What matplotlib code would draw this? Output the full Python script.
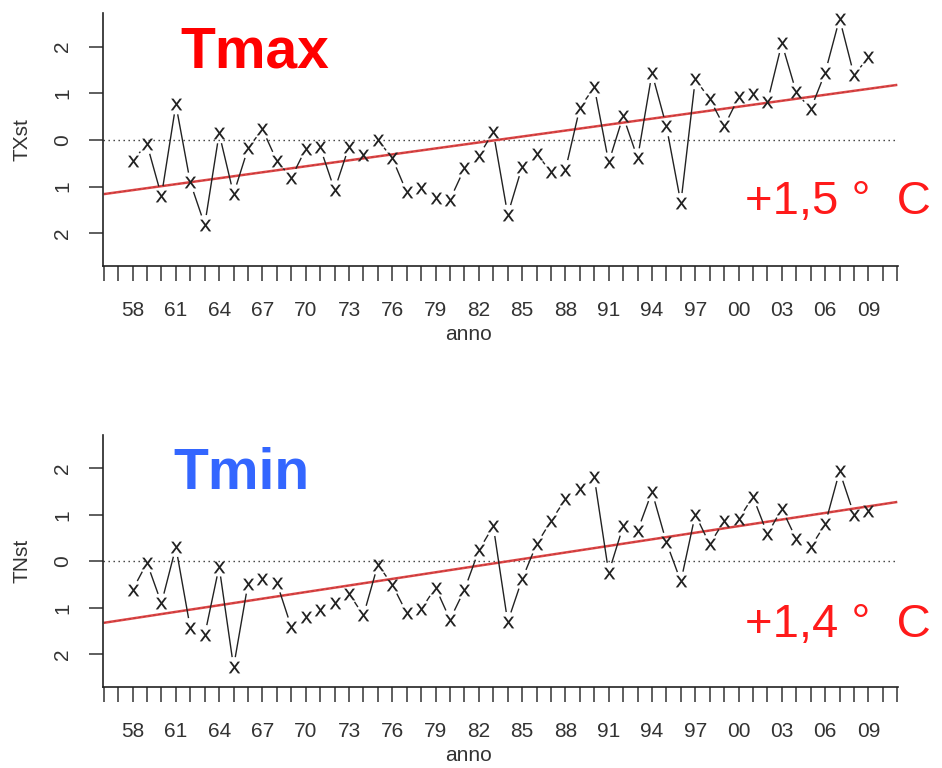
import numpy as np
import matplotlib.pyplot as plt
from matplotlib.collections import LineCollection

# years covered by the series
years = np.arange(1958, 2010)

# standardised anomalies
txst = [-0.44, -0.09, -1.20, 0.76, -0.91, -1.82, 0.14, -1.16, -0.18, 0.23,
        -0.45, -0.81, -0.19, -0.16, -1.07, -0.14, -0.32, 0.00, -0.39, -1.12,
        -1.02, -1.25, -1.28, -0.61, -0.34, 0.17, -1.60, -0.57, -0.29, -0.69,
        -0.64, 0.69, 1.13, -0.48, 0.51, -0.39, 1.43, 0.29, -1.35, 1.30,
        0.88, 0.29, 0.91, 0.98, 0.81, 2.07, 1.02, 0.66, 1.44, 2.60,
        1.39, 1.77]
tnst = [-0.61, -0.03, -0.90, 0.31, -1.43, -1.58, -0.11, -2.27, -0.48, -0.38,
        -0.46, -1.41, -1.20, -1.04, -0.90, -0.69, -1.16, -0.07, -0.50, -1.11,
        -1.03, -0.56, -1.25, -0.61, 0.24, 0.76, -1.30, -0.38, 0.37, 0.87,
        1.34, 1.55, 1.81, -0.24, 0.76, 0.66, 1.50, 0.41, -0.43, 1.01,
        0.37, 0.87, 0.91, 1.39, 0.59, 1.13, 0.48, 0.31, 0.80, 1.94,
        1.01, 1.09]

# linear trend end points
trend_years = [1956, 2011]
trend_tx = [-1.16, 1.18]
trend_tn = [-1.32, 1.28]

xticks_major = np.arange(1958, 2010, 3)
xtick_labels = ['%02d' % (y % 100) for y in xticks_major]
yticks = [-2, -1, 0, 1, 2]
ytick_labels = ['2', '1', '0', '1', '2']   # minus signs lost in the original

plt.rcParams['font.family'] = ['Liberation Sans', 'DejaVu Sans']

fig = plt.figure(figsize=(9.42, 7.68), dpi=100)
fig.patch.set_facecolor('white')

W, H = 942, 768


def gapped(ax, xs, ys, gap=10):
    # R type="b": segments stop short of the symbols
    pts = ax.transData.transform(np.column_stack([xs, ys]))
    inv = ax.transData.inverted()
    segs = []
    for p, q in zip(pts[:-1], pts[1:]):
        d = q - p
        L = np.hypot(*d)
        if L <= 2 * gap + 1:
            continue
        u = d / L
        segs.append(inv.transform(np.array([p + u * gap, q - u * gap])))
    return segs


def panel(top_px, bot_px, vals, trend, ylab, title, tcol, title_x, note, note_y):
    ax = fig.add_axes([103 / W, 1 - bot_px / H, (898 - 103) / W, (bot_px - top_px) / H])
    ax.set_xlim(1955.95, 2011.05)
    ax.set_ylim(-2.7, 2.72)
    for s in ['top', 'right']:
        ax.spines[s].set_visible(False)
    for s in ['left', 'bottom']:
        ax.spines[s].set_linewidth(1.2)
        ax.spines[s].set_color('#222222')

    ax.axhline(0, color='#333333', lw=1, ls=(0, (1, 2.6)))
    ax.plot(trend_years, trend, color='#e04848', lw=1.8, solid_capstyle='butt')
    ax.plot(trend_years, trend, color='#7a2020', lw=0.6, ls=(0, (3, 3)), alpha=0.5)

    ax.add_collection(LineCollection(gapped(ax, years, vals), colors='#222222', linewidths=1.0))
    ax.plot(years, vals, ls='none', marker=r'$\mathsf{x}$', ms=8.5, mew=0,
            color='#222222', clip_on=False)

    ax.set_xticks(np.arange(1956, 2012), minor=True)
    ax.set_xticks(xticks_major)
    ax.set_xticklabels(xtick_labels)
    ax.tick_params(axis='x', which='both', length=11, width=1.1, color='#333333',
                   direction='out', pad=14, labelsize=15, labelcolor='#333333')
    ax.set_yticks(yticks)
    ax.set_yticklabels(ytick_labels, rotation=90, va='center')
    ax.tick_params(axis='y', length=10, width=1.1, color='#333333', pad=12,
                   labelsize=15, labelcolor='#333333')
    ax.set_xlabel('anno', fontsize=15, color='#333333', labelpad=4)
    ax.xaxis.label.set_x(0.46)
    ax.set_ylabel(ylab, fontsize=15, color='#333333', labelpad=16)

    fig.text(title_x / W, 1 - (top_px + 39) / H, title, color=tcol, fontsize=41,
             fontweight='bold', va='center')
    fig.text(745 / W, 1 - note_y / H, note, color='#ff1a1a', fontsize=34, va='center')
    return ax


panel(13, 266, txst, trend_tx, 'TXst', 'Tmax', '#ff0000', 180, '+1,5 °  C', 202)
panel(435, 687, tnst, trend_tn, 'TNst', 'Tmin', '#3366ff', 173, '+1,4 °  C', 625)

fig.savefig('out.png', dpi=100)
